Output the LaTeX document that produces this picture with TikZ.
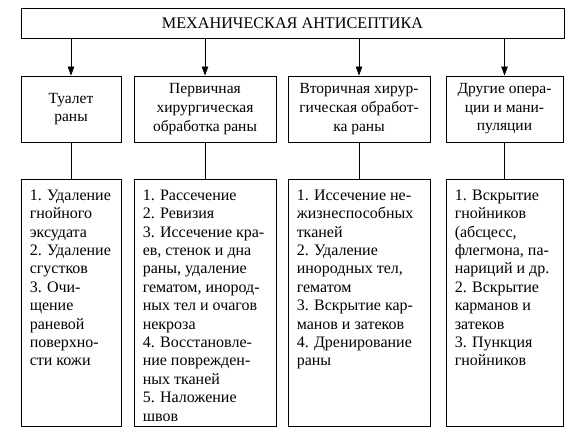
\documentclass[tikz,border=0pt]{standalone}
\usepackage{fontspec}
\setmainfont{Liberation Serif}
\usetikzlibrary{arrows.meta}
\tikzset{
  x=1pt, y=1pt,
  box/.style={draw, line width=0.9pt, inner sep=0pt, anchor=center},
  txt/.style={inner sep=0pt, font=\fontsize{15.5}{18.6}\selectfont},
  list/.style={inner sep=0pt, align=left, anchor=north west, font=\fontsize{16}{18.4}\selectfont},
  arr/.style={line width=0.8pt, -{Triangle[length=9pt,width=6.5pt]}},
  link/.style={line width=0.8pt},
}
\begin{document}
\begin{tikzpicture}
\useasboundingbox (0,0) rectangle (583,433);
% top box
\node[box, minimum width=543pt, minimum height=30pt] (top) at (292.5,410) {};
\node[txt, font=\fontsize{16.2}{19}\selectfont] (toptxt) at (top.center) {МЕХАНИЧЕСКАЯ АНТИСЕПТИКА};
% row 2
\node[box, minimum width=100pt, minimum height=66pt] (r1) at (71,324) {};
\node[box, minimum width=142pt, minimum height=66pt] (r2) at (205,324) {};
\node[box, minimum width=142pt, minimum height=66pt] (r3) at (359,324) {};
\node[box, minimum width=117pt, minimum height=66pt] (r4) at (504.5,324) {};
\node[txt, align=center] (t1) at (r1.center) {Туалет\\раны};
\node[txt, align=center] (t2) at (r2.center) {Первичная\\хирургическая\\обработка раны};
\node[txt, align=center] (t3) at (r3.center) {Вторичная хирур-\\гическая обработ-\\ка раны};
\node[txt, align=center] (t4) at (r4.center) {Другие опера-\\ции и мани-\\пуляции};
% row 3
\node[box, minimum width=100pt, minimum height=247pt] (b1) at (71,130.5) {};
\node[box, minimum width=142pt, minimum height=247pt] (b2) at (205,130.5) {};
\node[box, minimum width=142pt, minimum height=247pt] (b3) at (359,130.5) {};
\node[box, minimum width=117pt, minimum height=247pt] (b4) at (504.5,130.5) {};
\node[list] (l1) at ([xshift=9pt,yshift=-11pt]b1.north west)
  {1. Удаление\\гнойного\\эксудата\\2. Удаление\\сгустков\\3. Очи-\\щение\\раневой\\поверхно-\\сти кожи};
\node[list] (l2) at ([xshift=9pt,yshift=-11pt]b2.north west)
  {1. Рассечение\\2. Ревизия\\3. Иссечение кра-\\ев, стенок и дна\\раны, удаление\\гематом, инород-\\ных тел и очагов\\некроза\\4. Восстановле-\\ние поврежден-\\ных тканей\\5. Наложение\\швов};
\node[list] (l3) at ([xshift=9pt,yshift=-11pt]b3.north west)
  {1. Иссечение не-\\жизнеспособных\\тканей\\2. Удаление\\инородных тел,\\гематом\\3. Вскрытие кар-\\манов и затеков\\4. Дренирование\\раны};
\node[list] (l4) at ([xshift=9pt,yshift=-11pt]b4.north west)
  {1. Вскрытие\\гнойников\\(абсцесс,\\флегмона, па-\\нариций и др.\\2. Вскрытие\\карманов и\\затеков\\3. Пункция\\гнойников};
% connectors
\foreach \i in {1,2,3,4} {
  \draw[arr] (top.south -| r\i.north) -- (r\i.north);
  \draw[link] (r\i.south) -- (b\i.north);
}
\end{tikzpicture}
\end{document}
